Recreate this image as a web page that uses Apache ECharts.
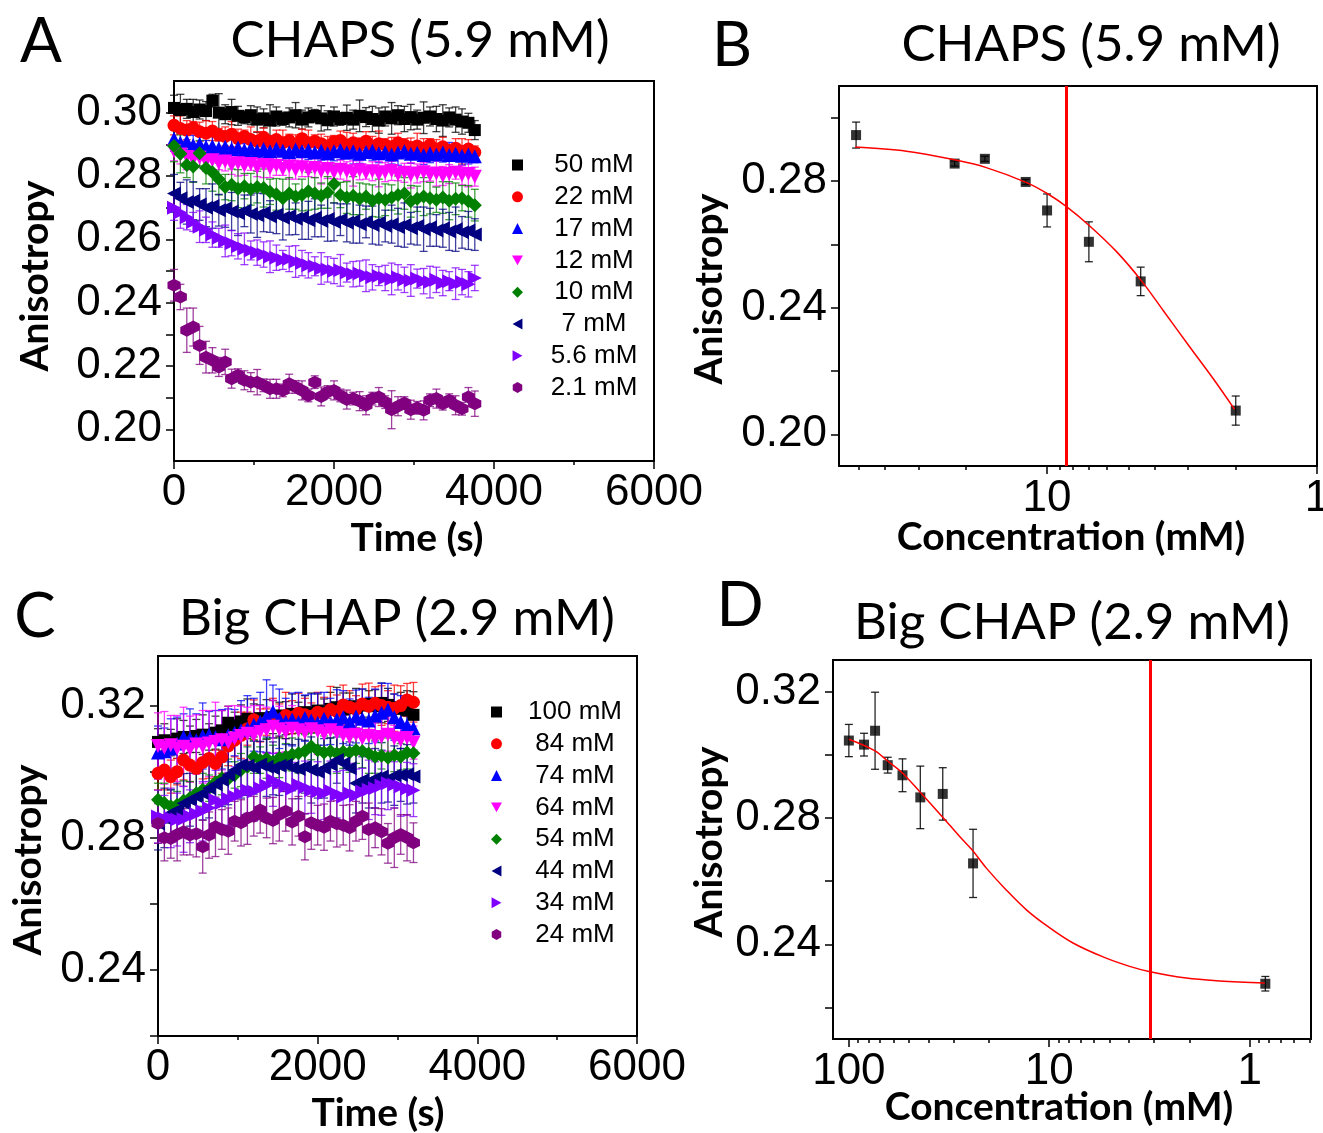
<!DOCTYPE html>
<html><head><meta charset="utf-8">
<script src="https://cdn.jsdelivr.net/npm/echarts@6/dist/echarts.min.js"></script>
<style>html,body{margin:0;padding:0;background:#fff}#c{width:1323px;height:1133px}</style>
</head><body><div id="c"></div>
<script>
// ---------- Panel A : CHAPS time courses ----------
const timeA = [0,80,160,240,320,400,480,560,640,720,800,880,960,1040,1120,1200,1280,1360,1440,1520,1600,1680,1760,1840,1920,2000,2080,2160,2240,2320,2400,2480,2560,2640,2720,2800,2880,2960,3040,3120,3200,3280,3360,3440,3520,3600,3680,3760];
const namesA = ['50 mM','22 mM','17 mM','12 mM','10 mM','7 mM','5.6 mM','2.1 mM'];
const a50 = [0.3015,0.3008,0.3012,0.3002,0.3010,0.3005,0.3038,0.3000,0.2995,0.3002,0.2990,0.2985,0.2992,0.2978,0.2982,0.2975,0.2988,0.2980,0.2985,0.2992,0.2978,0.2985,0.2990,0.2982,0.2976,0.2988,0.2980,0.2984,0.2978,0.2990,0.2986,0.2980,0.2975,0.2988,0.2982,0.2992,0.2980,0.2986,0.2978,0.2984,0.2988,0.2980,0.2975,0.2985,0.2978,0.2972,0.2968,0.2945];
const a22 = [0.2960,0.2950,0.2945,0.2952,0.2940,0.2935,0.2942,0.2930,0.2925,0.2932,0.2918,0.2925,0.2915,0.2910,0.2922,0.2908,0.2915,0.2905,0.2912,0.2900,0.2918,0.2905,0.2910,0.2902,0.2895,0.2908,0.2912,0.2898,0.2905,0.2900,0.2910,0.2895,0.2902,0.2898,0.2892,0.2905,0.2898,0.2890,0.2895,0.2888,0.2898,0.2885,0.2892,0.2880,0.2888,0.2878,0.2885,0.2875];
const a17 = [0.2918,0.2905,0.2910,0.2898,0.2902,0.2892,0.2895,0.2888,0.2892,0.2885,0.2890,0.2882,0.2888,0.2880,0.2885,0.2878,0.2886,0.2880,0.2875,0.2884,0.2878,0.2882,0.2875,0.2880,0.2872,0.2878,0.2882,0.2874,0.2878,0.2870,0.2876,0.2880,0.2872,0.2875,0.2868,0.2874,0.2878,0.2870,0.2873,0.2866,0.2872,0.2868,0.2874,0.2866,0.2870,0.2864,0.2868,0.2862];
const a12 = [0.2878,0.2868,0.2860,0.2852,0.2858,0.2845,0.2850,0.2840,0.2846,0.2835,0.2840,0.2832,0.2838,0.2828,0.2835,0.2825,0.2832,0.2822,0.2830,0.2820,0.2828,0.2818,0.2825,0.2815,0.2822,0.2812,0.2820,0.2815,0.2808,0.2818,0.2810,0.2815,0.2806,0.2812,0.2816,0.2805,0.2810,0.2802,0.2808,0.2812,0.2804,0.2808,0.2800,0.2806,0.2810,0.2802,0.2806,0.2798];
const a10 = [0.2895,0.2870,0.2835,0.2830,0.2872,0.2825,0.2812,0.2790,0.2765,0.2772,0.2760,0.2768,0.2758,0.2765,0.2762,0.2750,0.2742,0.2730,0.2745,0.2735,0.2740,0.2752,0.2745,0.2738,0.2748,0.2775,0.2740,0.2732,0.2738,0.2728,0.2735,0.2722,0.2730,0.2725,0.2732,0.2740,0.2745,0.2720,0.2728,0.2735,0.2730,0.2725,0.2732,0.2722,0.2728,0.2730,0.2720,0.2708];
const a7 = [0.2745,0.2730,0.2718,0.2722,0.2710,0.2700,0.2705,0.2692,0.2698,0.2688,0.2682,0.2690,0.2680,0.2676,0.2684,0.2672,0.2678,0.2668,0.2674,0.2665,0.2670,0.2660,0.2668,0.2658,0.2664,0.2655,0.2662,0.2652,0.2658,0.2648,0.2655,0.2645,0.2652,0.2642,0.2648,0.2638,0.2645,0.2635,0.2642,0.2632,0.2638,0.2628,0.2635,0.2625,0.2632,0.2622,0.2628,0.2615];
const a56 = [0.2700,0.2685,0.2670,0.2655,0.2640,0.2630,0.2615,0.2605,0.2595,0.2588,0.2578,0.2570,0.2565,0.2558,0.2552,0.2545,0.2542,0.2535,0.2538,0.2530,0.2525,0.2518,0.2515,0.2508,0.2505,0.2500,0.2502,0.2495,0.2490,0.2492,0.2485,0.2480,0.2484,0.2478,0.2475,0.2480,0.2472,0.2470,0.2476,0.2468,0.2465,0.2472,0.2462,0.2468,0.2460,0.2465,0.2458,0.2478];
const a21 = [0.2455,0.2418,0.2313,0.2323,0.2265,0.2228,0.2218,0.2197,0.2213,0.2160,0.2171,0.2155,0.2149,0.2149,0.2139,0.2128,0.2128,0.2123,0.2144,0.2134,0.2123,0.2107,0.2149,0.2104,0.2118,0.2123,0.2107,0.2094,0.2097,0.2089,0.2076,0.2097,0.2102,0.2086,0.2062,0.2073,0.2083,0.2062,0.2068,0.2060,0.2092,0.2097,0.2081,0.2092,0.2076,0.2065,0.2102,0.2081];
const errA50 = [0.004,0.005,0.003,0.004,0.003,0.003,0.002,0.006,0.003,0.004,0.003,0.002,0.003,0.004,0.003,0.005,0.003,0.002,0.003,0.004,0.003,0.003,0.002,0.004,0.003,0.003,0.002,0.004,0.003,0.005,0.003,0.004,0.004,0.003,0.005,0.003,0.004,0.004,0.003,0.005,0.003,0.004,0.005,0.003,0.004,0.004,0.003,0.003];
const errA22 = [0.003,0.004,0.003,0.002,0.003,0.004,0.003,0.002,0.003,0.004,0.003,0.002,0.004,0.003,0.003,0.002,0.003,0.004,0.002,0.003,0.003,0.004,0.002,0.003,0.003,0.002,0.003,0.004,0.003,0.002,0.003,0.003,0.004,0.002,0.003,0.003,0.002,0.003,0.004,0.003,0.002,0.003,0.003,0.002,0.003,0.004,0.003,0.002];
const errA17 = [0.004,0.003,0.002,0.003,0.003,0.002,0.003,0.004,0.002,0.003,0.003,0.002,0.003,0.002,0.004,0.003,0.002,0.003,0.003,0.002,0.004,0.003,0.002,0.003,0.002,0.003,0.003,0.002,0.004,0.003,0.002,0.003,0.003,0.002,0.003,0.004,0.002,0.003,0.002,0.003,0.003,0.002,0.003,0.004,0.002,0.003,0.003,0.002];
const errA12 = [0.003,0.003,0.004,0.002,0.003,0.003,0.004,0.002,0.003,0.003,0.004,0.003,0.002,0.003,0.004,0.003,0.003,0.002,0.004,0.003,0.003,0.002,0.003,0.004,0.003,0.002,0.003,0.003,0.004,0.003,0.002,0.003,0.004,0.003,0.003,0.002,0.003,0.004,0.003,0.003,0.002,0.004,0.003,0.003,0.002,0.003,0.004,0.003];
const errA10 = [0.005,0.006,0.004,0.005,0.004,0.005,0.006,0.005,0.004,0.005,0.006,0.004,0.005,0.005,0.006,0.004,0.005,0.006,0.005,0.004,0.005,0.006,0.005,0.004,0.005,0.006,0.004,0.005,0.006,0.005,0.004,0.005,0.006,0.005,0.004,0.006,0.005,0.005,0.004,0.006,0.005,0.004,0.005,0.006,0.005,0.004,0.005,0.005];
const errA7 = [0.006,0.005,0.007,0.006,0.005,0.006,0.007,0.005,0.006,0.006,0.007,0.005,0.006,0.007,0.006,0.005,0.006,0.007,0.006,0.005,0.007,0.006,0.006,0.005,0.007,0.006,0.005,0.006,0.007,0.006,0.005,0.006,0.007,0.005,0.006,0.006,0.007,0.005,0.006,0.007,0.006,0.005,0.006,0.006,0.007,0.005,0.006,0.005];
const errA56 = [0.004,0.005,0.004,0.003,0.005,0.004,0.004,0.003,0.005,0.004,0.004,0.005,0.003,0.004,0.004,0.005,0.004,0.003,0.004,0.005,0.004,0.004,0.003,0.005,0.004,0.004,0.005,0.003,0.004,0.004,0.005,0.004,0.003,0.004,0.005,0.004,0.004,0.005,0.003,0.004,0.005,0.004,0.004,0.003,0.005,0.004,0.004,0.004];
const errA21 = [0.005,0.004,0.007,0.006,0.006,0.005,0.004,0.003,0.004,0.003,0.002,0.003,0.003,0.004,0.002,0.003,0.003,0.002,0.003,0.002,0.003,0.002,0.002,0.003,0.002,0.003,0.002,0.003,0.002,0.003,0.003,0.002,0.003,0.002,0.006,0.003,0.002,0.003,0.002,0.003,0.002,0.003,0.002,0.002,0.003,0.002,0.003,0.004];
const aYTicks = [0.20,0.21,0.22,0.23,0.24,0.25,0.26,0.27,0.28,0.29,0.30];
const aYLabels = [0.20,0.22,0.24,0.26,0.28,0.30];

// ---------- Panel B : CHAPS anisotropy vs concentration ----------
const bConc = [51, 22, 17, 12, 10, 7, 4.5, 2.0];
const bAniso = [0.2945, 0.2855, 0.2870, 0.2797, 0.2707, 0.2608, 0.2483, 0.2075];
const bErr = [0.0041, 0.0008, 0.0008, 0.0008, 0.0052, 0.0063, 0.0045, 0.0046];
const bFitConc = [51.4, 33.2, 21.8, 16.9, 11.9, 9.92, 8.47, 6.95, 5.53, 4.49, 3.72, 2.96, 2.43, 2.02];
const bFitAniso = [0.2907, 0.2894, 0.2866, 0.2843, 0.2795, 0.2759, 0.2719, 0.2658, 0.2577, 0.2487, 0.2392, 0.2276, 0.2177, 0.2079];
const bCmc = 8.47;
const bXLabels = [10, 1];
const bXMinor = [50, 40, 30, 20, 9, 8, 7, 6, 5, 4, 3, 2];
const bYTicks = [0.20, 0.22, 0.24, 0.26, 0.28, 0.30];
const bYLabels = [0.20, 0.24, 0.28];

// ---------- Panel C : Big CHAP time courses ----------
const timeC = [0,80,160,240,320,400,480,560,640,720,800,880,960,1040,1120,1200,1280,1360,1440,1520,1600,1680,1760,1840,1920,2000,2080,2160,2240,2320,2400,2480,2560,2640,2720,2800,2880,2960,3040,3120,3200];
const namesC = ['100 mM','84 mM','74 mM','64 mM','54 mM','44 mM','34 mM','24 mM'];
const c100 = [0.3090,0.3095,0.3088,0.3100,0.3105,0.3098,0.3108,0.3112,0.3105,0.3118,0.3125,0.3148,0.3140,0.3152,0.3160,0.3155,0.3162,0.3158,0.3165,0.3170,0.3162,0.3175,0.3170,0.3180,0.3178,0.3185,0.3180,0.3190,0.3195,0.3188,0.3198,0.3192,0.3200,0.3205,0.3198,0.3208,0.3202,0.3195,0.3190,0.3185,0.3172];
const c84 = [0.2995,0.3005,0.2985,0.3000,0.3035,0.3020,0.3010,0.3028,0.3040,0.3025,0.3045,0.3078,0.3095,0.3110,0.3130,0.3157,0.3140,0.3150,0.3162,0.3155,0.3170,0.3165,0.3177,0.3172,0.3168,0.3180,0.3175,0.3188,0.3182,0.3202,0.3195,0.3190,0.3205,0.3198,0.3207,0.3200,0.3195,0.3192,0.3200,0.3217,0.3210];
const c74 = [0.3058,0.3062,0.3070,0.3085,0.3105,0.3100,0.3095,0.3108,0.3112,0.3105,0.3098,0.3110,0.3118,0.3125,0.3130,0.3142,0.3150,0.3168,0.3182,0.3160,0.3152,0.3158,0.3150,0.3162,0.3155,0.3148,0.3160,0.3152,0.3158,0.3165,0.3150,0.3167,0.3160,0.3155,0.3170,0.3178,0.3187,0.3165,0.3150,0.3140,0.3131];
const c64 = [0.3078,0.3072,0.3080,0.3070,0.3075,0.3068,0.3082,0.3075,0.3085,0.3090,0.3095,0.3088,0.3100,0.3108,0.3115,0.3110,0.3120,0.3125,0.3136,0.3128,0.3120,0.3130,0.3125,0.3118,0.3128,0.3122,0.3115,0.3125,0.3118,0.3110,0.3105,0.3112,0.3100,0.3108,0.3098,0.3105,0.3112,0.3100,0.3095,0.3102,0.3088];
const c54 = [0.2915,0.2905,0.2895,0.2900,0.2912,0.2920,0.2935,0.2945,0.2950,0.2968,0.2980,0.2978,0.2990,0.3005,0.3015,0.3045,0.3035,0.3040,0.3030,0.3042,0.3045,0.3052,0.3056,0.3062,0.3076,0.3065,0.3058,0.3062,0.3055,0.3060,0.3058,0.3065,0.3062,0.3055,0.3045,0.3048,0.3042,0.3050,0.3045,0.3058,0.3056];
const c44 = [0.2843,0.2860,0.2875,0.2885,0.2904,0.2915,0.2925,0.2934,0.2950,0.2962,0.2975,0.2990,0.3005,0.3020,0.3018,0.3012,0.3022,0.3015,0.3010,0.3018,0.3020,0.3012,0.3008,0.3015,0.3005,0.3000,0.3010,0.3022,0.3035,0.3025,0.3010,0.2965,0.2975,0.2970,0.2980,0.2985,0.2978,0.2988,0.2990,0.2992,0.2985];
const c34 = [0.2864,0.2858,0.2860,0.2855,0.2856,0.2865,0.2872,0.2880,0.2890,0.2914,0.2905,0.2918,0.2925,0.2932,0.2944,0.2940,0.2950,0.2958,0.2975,0.2965,0.2955,0.2948,0.2960,0.2952,0.2944,0.2940,0.2935,0.2942,0.2930,0.2924,0.2935,0.2928,0.2940,0.2945,0.2950,0.2958,0.2965,0.2960,0.2955,0.2948,0.2944];
const c24 = [0.2843,0.2800,0.2798,0.2810,0.2818,0.2808,0.2812,0.2773,0.2808,0.2833,0.2825,0.2820,0.2850,0.2845,0.2860,0.2865,0.2884,0.2860,0.2852,0.2870,0.2880,0.2848,0.2865,0.2803,0.2845,0.2838,0.2832,0.2850,0.2842,0.2838,0.2830,0.2850,0.2865,0.2825,0.2830,0.2818,0.2783,0.2800,0.2810,0.2800,0.2785];
const errC100 = [0.004,0.005,0.004,0.006,0.005,0.004,0.005,0.006,0.004,0.005,0.006,0.005,0.004,0.005,0.006,0.005,0.004,0.006,0.005,0.004,0.005,0.006,0.004,0.005,0.006,0.005,0.004,0.005,0.006,0.005,0.004,0.006,0.005,0.004,0.005,0.006,0.005,0.004,0.005,0.006,0.007];
const errC84 = [0.005,0.006,0.005,0.004,0.006,0.005,0.007,0.005,0.006,0.004,0.005,0.006,0.005,0.007,0.005,0.006,0.005,0.004,0.006,0.005,0.007,0.005,0.006,0.005,0.004,0.006,0.005,0.007,0.005,0.006,0.005,0.004,0.006,0.007,0.005,0.006,0.005,0.007,0.006,0.005,0.006];
const errC74 = [0.008,0.007,0.009,0.008,0.007,0.009,0.008,0.010,0.007,0.008,0.009,0.008,0.007,0.009,0.010,0.008,0.009,0.011,0.008,0.009,0.007,0.008,0.009,0.007,0.008,0.009,0.008,0.007,0.009,0.008,0.007,0.008,0.009,0.007,0.008,0.009,0.008,0.007,0.008,0.009,0.008];
const errC64 = [0.010,0.011,0.009,0.010,0.012,0.010,0.009,0.011,0.010,0.012,0.009,0.011,0.010,0.009,0.008,0.009,0.008,0.007,0.008,0.007,0.006,0.007,0.006,0.005,0.006,0.007,0.005,0.006,0.005,0.006,0.005,0.006,0.005,0.004,0.005,0.006,0.005,0.004,0.005,0.004,0.005];
const errC54 = [0.005,0.006,0.005,0.004,0.006,0.005,0.006,0.005,0.004,0.006,0.005,0.006,0.004,0.005,0.006,0.005,0.004,0.006,0.005,0.006,0.004,0.005,0.006,0.005,0.004,0.006,0.005,0.004,0.006,0.005,0.006,0.004,0.005,0.006,0.005,0.004,0.006,0.005,0.004,0.005,0.006];
const errC44 = [0.008,0.009,0.007,0.008,0.009,0.008,0.010,0.008,0.009,0.007,0.008,0.009,0.008,0.010,0.009,0.008,0.007,0.009,0.008,0.009,0.008,0.007,0.009,0.008,0.010,0.008,0.009,0.008,0.007,0.009,0.008,0.009,0.007,0.008,0.009,0.008,0.007,0.009,0.008,0.009,0.008];
const errC34 = [0.008,0.007,0.009,0.008,0.010,0.008,0.007,0.009,0.008,0.009,0.007,0.008,0.009,0.008,0.007,0.009,0.008,0.010,0.008,0.009,0.007,0.008,0.009,0.008,0.007,0.009,0.008,0.009,0.007,0.008,0.009,0.008,0.007,0.009,0.008,0.009,0.008,0.007,0.009,0.008,0.008];
const errC24 = [0.006,0.007,0.006,0.008,0.007,0.006,0.007,0.008,0.007,0.009,0.006,0.007,0.006,0.007,0.008,0.006,0.007,0.006,0.007,0.008,0.006,0.007,0.006,0.007,0.008,0.006,0.007,0.006,0.007,0.006,0.007,0.006,0.007,0.008,0.006,0.007,0.006,0.009,0.006,0.007,0.006];
const cYTicks = [0.22, 0.24, 0.26, 0.28, 0.30, 0.32];
const cYLabels = [0.24, 0.28, 0.32];

// ---------- Panel D : Big CHAP anisotropy vs concentration ----------
const dConc = [100, 84, 74, 64, 54, 44, 34, 24, 0.835];
const dAniso = [0.3045, 0.3032, 0.3076, 0.2967, 0.2935, 0.2865, 0.2876, 0.2656, 0.2275];
const dErr = [0.0051, 0.0036, 0.0122, 0.0025, 0.0052, 0.0099, 0.0083, 0.0108, 0.0023];
const dFitConc = [100, 74.4, 64.3, 54.4, 44.4, 34.2, 28.0, 24.3, 20.6, 16.4, 13.0, 10.3, 7.61, 5.39, 3.97, 3.14, 2.07, 1.41, 0.84];
const dFitAniso = [0.3049, 0.3013, 0.2981, 0.2944, 0.2884, 0.2804, 0.2741, 0.2699, 0.2641, 0.2572, 0.2509, 0.2459, 0.2404, 0.2360, 0.2330, 0.2313, 0.2293, 0.2284, 0.2277];
const dCmc = 3.13;
const dXLabels = [100, 10, 1];
const dXMinor = [90, 80, 70, 60, 50, 40, 30, 20, 9, 8, 7, 6, 5, 4, 3, 2, 0.9, 0.8, 0.7, 0.6, 0.5];
const dYTicks = [0.22, 0.24, 0.26, 0.28, 0.30, 0.32];
const dYLabels = [0.24, 0.28, 0.32];
const timeTicks = [0, 2000, 4000, 6000];

// ---------- styling ----------
const colors = ['#000000','#ff0000','#0000ff','#ff00ff','#008000','#000080','#8000ff','#800080'];
const symbols = ['rect','circle','triangle','path://M0,0L10,0L5,9Z','diamond','path://M0,5L9,0L9,10Z','path://M0,0L9,5L0,10Z','path://M5,0L9.33,2.5L9.33,7.5L5,10L0.67,7.5L0.67,2.5Z'];
const symSizes = [12, 13, 14, 14, 14, 14, 14, 13];
const TICKFONT = 'Liberation Sans, Arial, sans-serif';
const TITLEFONT = 'Lato, Carlito, sans-serif';

function errRender(color, cap, opacity) {
  return function (params, api) {
    const x = api.value(0), y = api.value(1), e = api.value(2);
    const top = api.coord([x, y + e]);
    const bot = api.coord([x, y - e]);
    const cx = top[0];
    const st = { stroke: color, lineWidth: 1.3, opacity: opacity };
    return { type: 'group', children: [
      { type: 'line', shape: { x1: cx, y1: top[1], x2: cx, y2: bot[1] }, style: st },
      { type: 'line', shape: { x1: cx - cap, y1: top[1], x2: cx + cap, y2: top[1] }, style: st },
      { type: 'line', shape: { x1: cx - cap, y1: bot[1], x2: cx + cap, y2: bot[1] }, style: st }
    ]};
  };
}

function timeSeries(names, ys, errs, times, xi, yi) {
  const out = [];
  names.forEach(function (n, i) {
    out.push({
      type: 'custom', name: n + ' error', xAxisIndex: xi, yAxisIndex: yi, silent: true,
      renderItem: errRender(colors[i], 4, 0.75), encode: { x: 0, y: 1 },
      data: ys[i].map(function (v, k) { return [times[k], v, errs[i][k] || 0]; })
    });
    out.push({
      type: 'scatter', name: n, xAxisIndex: xi, yAxisIndex: yi,
      symbol: symbols[i], symbolSize: symSizes[i], itemStyle: { color: colors[i], opacity: 1 },
      data: ys[i].map(function (v, k) { return [times[k], v]; })
    });
  });
  return out;
}

function pointSeries(name, xs, ys, errs, fx, fy, cmc, xi, yi) {
  return [
    { type: 'custom', name: name + ' error', xAxisIndex: xi, yAxisIndex: yi, silent: true,
      renderItem: errRender('#000', 4, 0.85), encode: { x: 0, y: 1 },
      data: xs.map(function (x, k) { return [x, ys[k], errs[k]]; }) },
    { type: 'line', name: name + ' fit', xAxisIndex: xi, yAxisIndex: yi, smooth: 0.35,
      showSymbol: false, symbol: 'none', lineStyle: { color: '#ff0000', width: 1.5 }, silent: true,
      data: fx.map(function (x, k) { return [x, fy[k]]; }),
      markLine: { silent: true, symbol: ['none', 'none'], label: { show: false },
        lineStyle: { color: '#ff0000', width: 3, type: 'solid' }, data: [{ xAxis: cmc }] } },
    { type: 'scatter', name: name, xAxisIndex: xi, yAxisIndex: yi, symbol: 'rect', symbolSize: 10,
      itemStyle: { color: '#000' }, data: xs.map(function (x, k) { return [x, ys[k]]; }) }
  ];
}

const axisLine = { show: true, onZero: false, lineStyle: { color: '#000', width: 2 } };
const tickStyle = { color: '#000', width: 1.5 };
function yAxisDef(gi, min, max, ticks, labels) {
  return { type: 'value', gridIndex: gi, min: min, max: max, axisLine: axisLine,
    splitLine: { show: false },
    axisTick: { show: true, length: 8, lineStyle: tickStyle, customValues: ticks },
    axisLabel: { customValues: labels, color: '#000', fontFamily: TICKFONT, fontSize: 44, margin: 12,
      formatter: function (v) { return v.toFixed(2); } } };
}
function timeAxisDef(gi) {
  return { type: 'value', gridIndex: gi, min: 0, max: 6000, interval: 2000, axisLine: axisLine,
    splitLine: { show: false }, minorSplitLine: { show: false },
    axisTick: { show: true, length: 8, lineStyle: tickStyle, customValues: timeTicks },
    minorTick: { show: true, splitNumber: 2, length: 4, lineStyle: tickStyle },
    axisLabel: { customValues: timeTicks, color: '#000', fontFamily: TICKFONT, fontSize: 44, margin: 10,
      formatter: function (v) { return String(Math.round(v)); } } };
}
function logAxisDef(gi, min, max, majors) {
  return { type: 'log', logBase: 10, gridIndex: gi, min: min, max: max, inverse: true, position: 'bottom',
    axisLine: axisLine, splitLine: { show: false },
    axisTick: { show: true, length: 8, lineStyle: tickStyle, customValues: majors },
    axisLabel: { customValues: majors, color: '#000', fontFamily: TICKFONT, fontSize: 44, margin: 11,
      formatter: function (v) { return String(Math.round(v)); } } };
}
function logMinorAxisDef(gi, min, max, minors) {
  return { type: 'log', logBase: 10, gridIndex: gi, min: min, max: max, inverse: true, position: 'bottom',
    axisLine: { show: false, onZero: false }, splitLine: { show: false },
    axisTick: { show: true, length: 4, lineStyle: tickStyle, customValues: minors },
    axisLabel: { show: false } };
}

const gridBase = { show: true, borderColor: '#000', borderWidth: 2, backgroundColor: 'transparent', containLabel: false, outerBoundsMode: 'none' };
function legendDef(names, left, top, textW) {
  return { data: names, orient: 'vertical', left: left, top: top, padding: 0,
    itemWidth: 11, itemHeight: 11, itemGap: 5.8, selectedMode: false,
    formatter: function (n) { return '{c|' + n + '}'; },
    textStyle: { rich: { c: { width: textW, align: 'center', fontFamily: TICKFONT, fontSize: 26, color: '#000', lineHeight: 20 } } } };
}
function txt(text, x, y, size, bold, rot) {
  return { type: 'text', x: x, y: y, rotation: rot ? Math.PI / 2 : 0, silent: true,
    style: { text: text, fill: '#000', font: (bold ? 'bold ' : '') + size + 'px ' + TITLEFONT,
      align: 'center', verticalAlign: 'middle', textAlign: 'center', textVerticalAlign: 'middle' } };
}

const option = {
  animation: false,
  backgroundColor: '#ffffff',
  grid: [
    Object.assign({ left: 174, top: 81, width: 480, height: 380 }, gridBase),
    Object.assign({ left: 839, top: 86, width: 478, height: 380 }, gridBase),
    Object.assign({ left: 158, top: 656, width: 479, height: 380 }, gridBase),
    Object.assign({ left: 833, top: 660, width: 478, height: 379 }, gridBase)
  ],
  xAxis: [
    timeAxisDef(0),
    logAxisDef(1, 1, 59, bXLabels),
    logMinorAxisDef(1, 1, 59, bXMinor),
    timeAxisDef(2),
    logAxisDef(3, 0.494, 120, dXLabels),
    logMinorAxisDef(3, 0.494, 120, dXMinor)
  ],
  yAxis: [
    yAxisDef(0, 0.19, 0.31, aYTicks, aYLabels),
    yAxisDef(1, 0.19, 0.31, bYTicks, bYLabels),
    yAxisDef(2, 0.22, 0.335, cYTicks, cYLabels),
    yAxisDef(3, 0.21, 0.33, dYTicks, dYLabels)
  ],
  legend: [
    legendDef(namesA, 512, 152, 132),
    legendDef(namesC, 491, 699, 136)
  ],
  graphic: [
    txt('A', 41, 42, 62, false), txt('CHAPS (5.9 mM)', 420, 41, 51, false),
    txt('B', 732, 46, 62, false), txt('CHAPS (5.9 mM)', 1091, 45, 51, false),
    txt('C', 35, 617, 62, false), txt('Big CHAP (2.9 mM)', 397, 619, 51, false),
    txt('D', 740, 606, 62, false), txt('Big CHAP (2.9 mM)', 1072, 623, 51, false),
    txt('Anisotropy', 35, 276, 39, true, true), txt('Time (s)', 417, 538, 39, true),
    txt('Anisotropy', 709, 289, 39, true, true), txt('Concentration (mM)', 1071, 537, 39, true),
    txt('Anisotropy', 28, 860, 39, true, true), txt('Time (s)', 378, 1113, 39, true),
    txt('Anisotropy', 709, 842, 39, true, true), txt('Concentration (mM)', 1059, 1107, 39, true)
  ],
  series: [].concat(
    timeSeries(namesA, [a50, a22, a17, a12, a10, a7, a56, a21], [errA50, errA22, errA17, errA12, errA10, errA7, errA56, errA21], timeA, 0, 0),
    pointSeries('CHAPS', bConc, bAniso, bErr, bFitConc, bFitAniso, bCmc, 1, 1),
    timeSeries(namesC, [c100, c84, c74, c64, c54, c44, c34, c24], [errC100, errC84, errC74, errC64, errC54, errC44, errC34, errC24], timeC, 3, 2),
    pointSeries('Big CHAP', dConc, dAniso, dErr, dFitConc, dFitAniso, dCmc, 4, 3)
  )
};
const chart = echarts.init(document.getElementById('c'), null, { renderer: 'canvas' });
chart.setOption(option);
</script>
</body></html>
